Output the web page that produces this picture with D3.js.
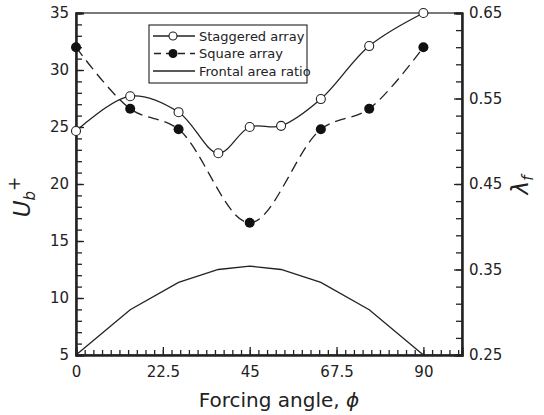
<!DOCTYPE html>
<html>
<head>
<meta charset="utf-8">
<script src="https://cdn.jsdelivr.net/npm/d3@7"></script>
<style>
  body { margin: 0; background: #fff; }
  svg { display: block; }
  text { font-family: "DejaVu Sans", Verdana, sans-serif; fill: #222; }
</style>
</head>
<body>
<svg id="chart" width="544" height="415"></svg>
<script>
// Forcing angles (degrees)
const anglesStaggered = [0, 14.04, 26.57, 36.87, 45, 53.13, 63.43, 75.96, 90];
const ubStaggered = [24.65, 27.7, 26.3, 22.7, 25.0, 25.1, 27.45, 32.1, 35.0];

const anglesSquare = [0, 14.04, 26.57, 45, 63.43, 75.96, 90];
const ubSquare = [32.0, 26.6, 24.8, 16.6, 24.8, 26.6, 32.0];

const anglesFrontal = [0, 14.04, 26.57, 36.87, 45, 53.13, 63.43, 75.96, 90];
const lambdaF = [0.25, 0.303, 0.335, 0.35, 0.354, 0.35, 0.335, 0.303, 0.25];

const xTicks = [0, 22.5, 45, 67.5, 90];
const yLeftTicks = [5, 10, 15, 20, 25, 30, 35];
const yRightTicks = [0.25, 0.35, 0.45, 0.55, 0.65];

const legendLabels = ["Staggered array", "Square array", "Frontal area ratio"];

const svg = d3.select("#chart");
const m = { left: 76, right: 462, top: 13, bottom: 355 };

const x = d3.scaleLinear().domain([0, 100]).range([m.left, m.right]);
const yL = d3.scaleLinear().domain([5, 35]).range([m.bottom, m.top]);
const yR = d3.scaleLinear().domain([0.25, 0.65]).range([m.bottom, m.top]);

// frame
svg.append("rect")
  .attr("x", m.left).attr("y", m.top)
  .attr("width", m.right - m.left).attr("height", m.bottom - m.top)
  .attr("fill", "none").attr("stroke", "#222").attr("stroke-width", 1.2);

const axisStyle = g => {
  g.select(".domain").attr("stroke", "#222").attr("stroke-width", 2);
  g.selectAll(".tick line").attr("stroke", "#222").attr("stroke-width", 1.3);
  g.selectAll(".tick text").attr("font-size", 15).attr("fill", "#222")
    .attr("font-family", "DejaVu Sans, Verdana, sans-serif");
};

// bottom axis: minor ticks every 2.25
const xMinor = d3.range(0, 100.01, 2.25).filter(v => v <= 100);
svg.append("g")
  .attr("transform", `translate(0,${m.bottom})`)
  .call(d3.axisBottom(x).tickValues(xMinor).tickSize(-5).tickFormat(""))
  .call(axisStyle);
svg.append("g")
  .attr("transform", `translate(0,${m.bottom})`)
  .call(d3.axisBottom(x).tickValues(xTicks).tickSize(-8).tickPadding(11)
    .tickFormat(d => String(d)))
  .call(axisStyle);

// left axis: minor every 1
svg.append("g")
  .attr("transform", `translate(${m.left},0)`)
  .call(d3.axisLeft(yL).tickValues(d3.range(5, 35.01, 1)).tickSize(-6).tickFormat(""))
  .call(axisStyle);
svg.append("g")
  .attr("transform", `translate(${m.left},0)`)
  .call(d3.axisLeft(yL).tickValues(yLeftTicks).tickSize(-8).tickPadding(7))
  .call(axisStyle);

// right axis: minor every 0.02
svg.append("g")
  .attr("transform", `translate(${m.right},0)`)
  .call(d3.axisRight(yR).tickValues(d3.range(0, 21).map(i => 0.25 + i * 0.02)).tickSize(-6).tickFormat(""))
  .call(axisStyle);
svg.append("g")
  .attr("transform", `translate(${m.right},0)`)
  .call(d3.axisRight(yR).tickValues(yRightTicks).tickSize(-8).tickPadding(7)
    .tickFormat(d3.format(".2f")))
  .call(axisStyle);

// curves
const lineStag = d3.line().x(d => x(d[0])).y(d => yL(d[1])).curve(d3.curveCatmullRom.alpha(0.5));
const lineSq = d3.line().x(d => x(d[0])).y(d => yL(d[1])).curve(d3.curveCatmullRom.alpha(0.5));
const lineFr = d3.line().x(d => x(d[0])).y(d => yR(d[1]));

const stag = anglesStaggered.map((a, i) => [a, ubStaggered[i]]);
const sq = anglesSquare.map((a, i) => [a, ubSquare[i]]);
const fr = anglesFrontal.map((a, i) => [a, lambdaF[i]]);

svg.append("path").attr("d", lineFr(fr))
  .attr("fill", "none").attr("stroke", "#222").attr("stroke-width", 1.3);
svg.append("path").attr("d", lineSq(sq))
  .attr("fill", "none").attr("stroke", "#222").attr("stroke-width", 1.3)
  .attr("stroke-dasharray", "11,6");
svg.append("path").attr("d", lineStag(stag))
  .attr("fill", "none").attr("stroke", "#222").attr("stroke-width", 1.3);

svg.append("g").selectAll("circle").data(sq).join("circle")
  .attr("cx", d => x(d[0])).attr("cy", d => yL(d[1])).attr("r", 5)
  .attr("fill", "#111");
svg.append("g").selectAll("circle").data(stag).join("circle")
  .attr("cx", d => x(d[0])).attr("cy", d => yL(d[1])).attr("r", 4.5)
  .attr("fill", "#fff").attr("stroke", "#222").attr("stroke-width", 1.1);

// legend
const lg = svg.append("g");
lg.append("rect").attr("x", 149).attr("y", 25).attr("width", 158).attr("height", 58)
  .attr("fill", "#fff").attr("stroke", "#222").attr("stroke-width", 1.1);
const rows = [36, 53.5, 71];
rows.forEach((ry, i) => {
  const l = lg.append("line").attr("x1", 153).attr("x2", 195).attr("y1", ry).attr("y2", ry)
    .attr("stroke", "#222").attr("stroke-width", 1.3);
  if (i === 1) l.attr("stroke-dasharray", "7,5").attr("stroke-dashoffset", -1);
  if (i === 0) lg.append("circle").attr("cx", 173).attr("cy", ry).attr("r", 4)
    .attr("fill", "#fff").attr("stroke", "#222").attr("stroke-width", 1.1);
  if (i === 1) lg.append("circle").attr("cx", 173).attr("cy", ry).attr("r", 4.5)
    .attr("fill", "#111");
  lg.append("text").attr("x", 199).attr("y", ry + 4.5).attr("font-size", 13)
    .text(legendLabels[i]);
});

// axis titles
svg.append("text").attr("x", 279).attr("y", 407)
  .attr("text-anchor", "middle").attr("font-size", 20)
  .text("Forcing angle, ").append("tspan").attr("font-style", "italic").text("ϕ");

const ul = svg.append("text").attr("transform", "translate(30,197) rotate(-90)")
  .attr("text-anchor", "middle").attr("font-size", 23).attr("font-style", "italic");
ul.append("tspan").text("U");
ul.append("tspan").attr("font-size", 15).attr("dy", 5).text("b");
ul.append("tspan").attr("font-size", 17).attr("dy", -15).attr("font-style", "normal").text("+");

const rl = svg.append("text").attr("transform", "translate(528,185) rotate(-90)")
  .attr("text-anchor", "middle").attr("font-size", 23).attr("font-style", "italic");
rl.append("tspan").text("λ");
rl.append("tspan").attr("font-size", 15).attr("dy", 5).text("f");
</script>
</body>
</html>
